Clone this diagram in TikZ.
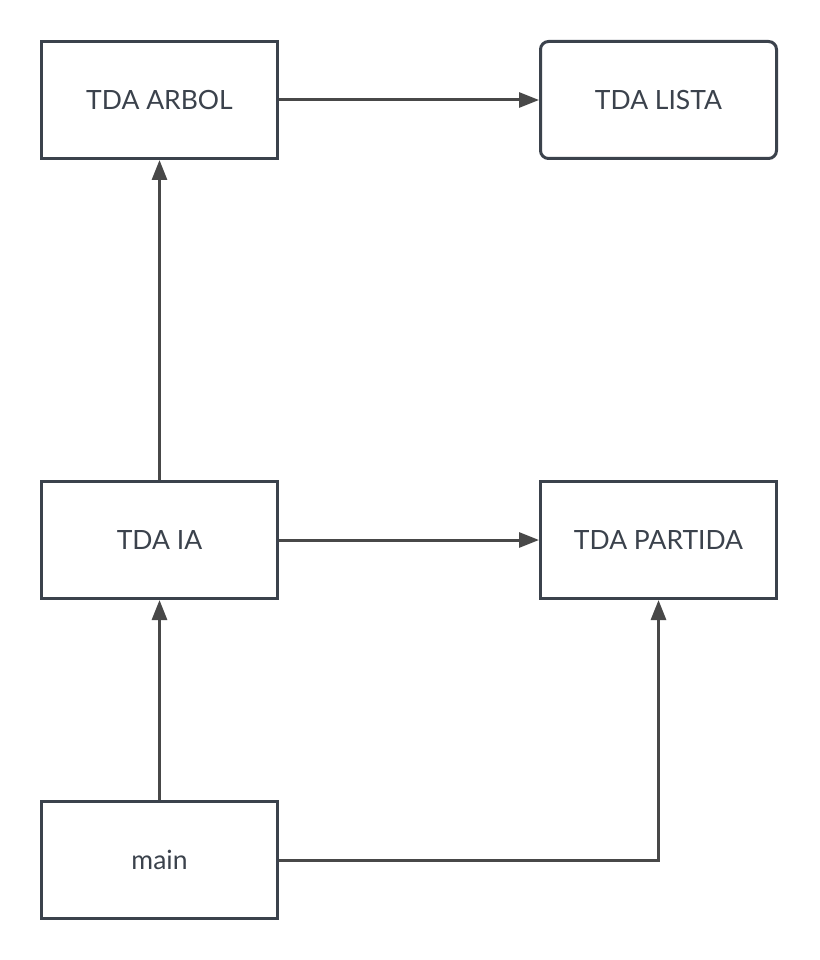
\documentclass[tikz,border=0pt]{standalone}
\usepackage{fontspec}
\setmainfont{Lato}
\usepackage{xcolor}
\usetikzlibrary{arrows.meta,calc}
\definecolor{boxline}{HTML}{3B424C}
\definecolor{arrline}{HTML}{484848}
\tikzset{>={Triangle[length=20pt,width=15pt]}}

\begin{document}
\begin{tikzpicture}[x=1pt,y=-1pt,
	tda/.style={draw=boxline, line width=3pt, fill=white, minimum width=236pt, minimum height=117pt, inner sep=0pt, text=boxline, font=\fontsize{26.5}{30}\selectfont},
	dep/.style={draw=arrline, line width=3pt, ->}]

\useasboundingbox (0,0) rectangle (819,960);

\def\xl{159.5}
\def\xr{658.5}

\node[tda] (arbol) at (\xl,100){TDA ARBOL};
\node[tda, rounded corners=8pt] (lista) at (\xr,100){TDA LISTA};
\node[tda] (ia) at (\xl,540){TDA IA};
\node[tda] (partida) at (\xr,540){TDA PARTIDA};
\node[tda] (main) at (\xl,860){main};

\draw[dep] (arbol.east) -- (lista.west);
\draw[dep] (ia.north) -- (arbol.south);
\draw[dep] (ia.east) -- (partida.west);
\draw[dep] (main.north) -- (ia.south);
\draw[dep] (main.east) -| (partida.south);

\end{tikzpicture}
\end{document}
